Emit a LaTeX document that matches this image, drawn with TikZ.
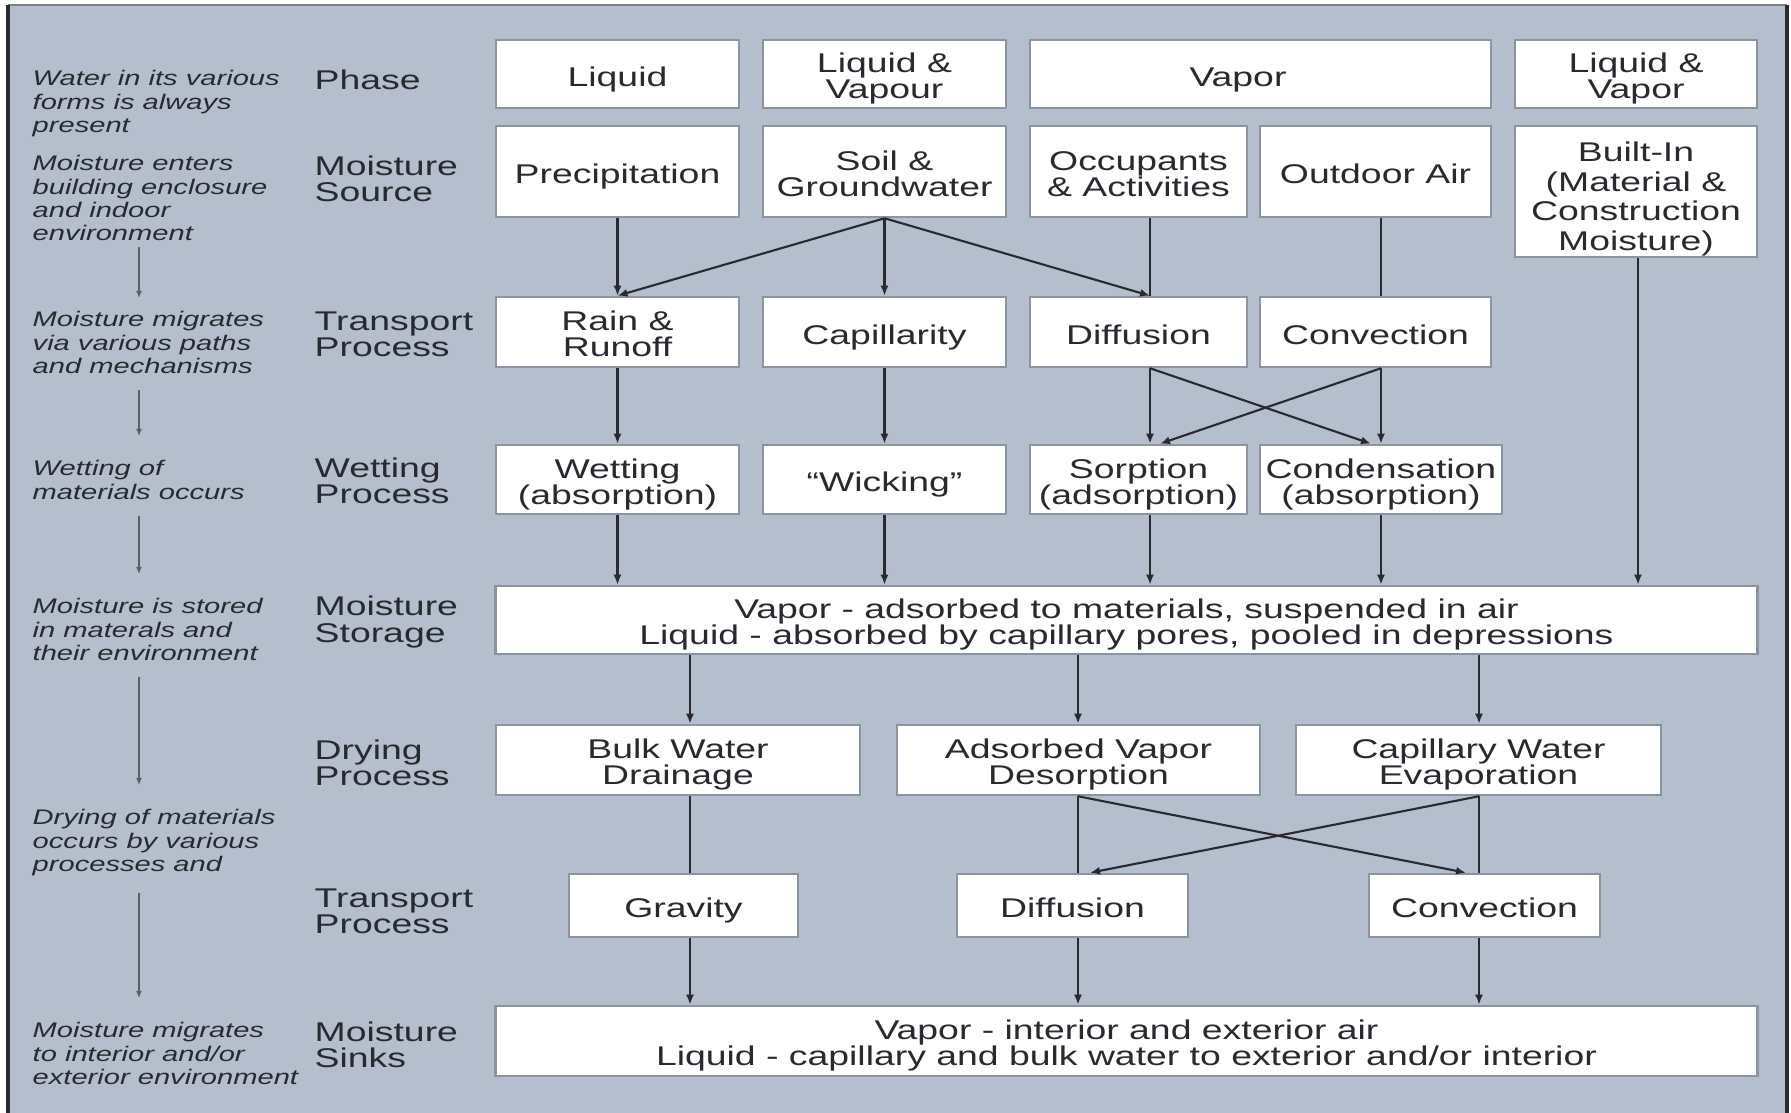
\documentclass[tikz,border=0pt]{standalone}
\usepackage{fontspec}
\setmainfont{Liberation Sans}[FakeStretch=1.38]
\usetikzlibrary{arrows.meta}
\definecolor{bgblue}{RGB}{180,190,205}
\definecolor{boxline}{RGB}{140,148,160}
\definecolor{ink}{RGB}{40,42,48}

\begin{document}
\begin{tikzpicture}[x=0.01cm, y=-0.01cm,
    box/.style = {draw=boxline, fill=white, line width=0.7pt, inner sep=0pt, align=center, text=ink, font=\fontsize{7.7}{7.4}\selectfont, text height=6.9pt, text depth=0pt},
    twoline/.style = {text height=14.2pt},
    cat/.style = {anchor=west, align=left, inner sep=0pt, text=ink, font=\fontsize{7.7}{7.4}\selectfont},
    note/.style = {anchor=north west, align=left, inner sep=0pt, text=ink, font=\itshape\fontsize{6}{6.6}\selectfont},
    arr/.style = {draw=ink, line width=0.6pt, -{Latex[length=1mm,width=0.8mm]}},
    link/.style = {draw=ink, line width=0.6pt},
    down/.style = {draw=ink!75, line width=0.5pt, -{Latex[length=0.7mm,width=0.6mm]}, shorten <=0.16cm, shorten >=0.24cm}]

        \useasboundingbox (0,0) rectangle (1791,1113);
        \fill[white] (0,0) rectangle (1791,1113);
        \fill[bgblue] (8,5) rectangle (1787,1113);
        \draw[gray, line width=0.8pt] (8,5) -- (1787,5);
        \draw[ink, line width=1.2pt] (8,5) -- (8,1113);
        \draw[ink, line width=1.2pt] (1787,5) -- (1787,1113);

        \coordinate (xL) at (139,0);
        \coordinate (xC) at (1150,0);
        \coordinate (xCr) at (1160,0);
        \coordinate (xD) at (1381,0);
        \coordinate (xDl) at (1371,0);
        \coordinate (xE) at (1638,0);
        \coordinate (xG) at (690,0);
        \coordinate (xH) at (1078,0);
        \coordinate (xHr) at (1090,0);
        \coordinate (xI) at (1479,0);
        \coordinate (xIl) at (1466,0);

        \node[note] (note1) at (32,70) {Water in its various\\forms is always\\present};
        \node[note] (note2) at (32,155) {Moisture enters\\building enclosure\\and indoor\\environment};
        \node[note] (note3) at (32,311) {Moisture migrates\\via various paths\\and mechanisms};
        \node[note] (note4) at (32,460) {Wetting of\\materials occurs};
        \node[note] (note5) at (32,598) {Moisture is stored\\in materals and\\their environment};
        \node[note] (note6) at (32,809) {Drying of materials\\occurs by various\\processes and};
        \node[note] (note7) at (32,1022) {Moisture migrates\\to interior and/or\\exterior environment};

        \draw[down, shorten <=0.05cm, shorten >=0.13cm] (note2.south -| xL) -- (note3.north -| xL);
        \draw[down] (note3.south -| xL) -- (note4.north -| xL);
        \draw[down] (note4.south -| xL) -- (note5.north -| xL);
        \draw[down] (note5.south -| xL) -- (note6.north -| xL);
        \draw[down] (note6.south -| xL) -- (note7.north -| xL);

        \node[cat] (catPhase) at (314,80) {Phase};
        \node[cat] (catSource) at (314,179) {Moisture\\Source};
        \node[cat] (catTrans) at (314,334) {Transport\\Process};
        \node[cat] (catWet) at (314,481) {Wetting\\Process};
        \node[cat] (catStore) at (314,622) {Moisture\\Storage};
        \node[cat] (catDry) at (314,763) {Drying\\Process};
        \node[cat] (catTransB) at (314,911) {Transport\\Process};
        \node[cat] (catSinks) at (314,1045) {Moisture\\Sinks};

        \node[box, minimum width=2.43cm, minimum height=0.68cm] (phLiq) at (617.5,74) {Liquid};
        \node[box, twoline, minimum width=2.43cm, minimum height=0.68cm] (phLV) at (884.5,74) {Liquid \&\\Vapour};
        \node[box, minimum width=4.61cm, minimum height=0.68cm] (phVap) at (1260.5,74) {Vapor\hspace*{0.45cm}};
        \node[box, twoline, minimum width=2.42cm, minimum height=0.68cm] (phLVB) at (1636,74) {Liquid \&\\Vapor};

        \node[box, minimum width=2.43cm, minimum height=0.91cm] (srcPrec) at (617.5,171.5) {Precipitation};
        \node[box, twoline, minimum width=2.43cm, minimum height=0.91cm] (srcSoil) at (884.5,171.5) {Soil \&\\Groundwater};
        \node[box, twoline, minimum width=2.17cm, minimum height=0.91cm] (srcOcc) at (1138.5,171.5) {Occupants\\\& Activities};
        \node[box, minimum width=2.31cm, minimum height=0.91cm] (srcAir) at (1375.5,171.5) {Outdoor Air};
        \node[box, text height=33.4pt, minimum width=2.42cm, minimum height=1.31cm, font=\fontsize{7.7}{8.4}\selectfont] (srcBuilt) at (1636,191.5) {Built-In\\(Material \&\\Construction\\Moisture)};

        \node[box, twoline, minimum width=2.43cm, minimum height=0.70cm] (trRain) at (617.5,332) {Rain \&\\Runoff};
        \node[box, minimum width=2.43cm, minimum height=0.70cm] (trCap) at (884.5,332) {Capillarity};
        \node[box, minimum width=2.17cm, minimum height=0.70cm] (trDiff) at (1138.5,332) {Diffusion};
        \node[box, minimum width=2.31cm, minimum height=0.70cm] (trConv) at (1375.5,332) {Convection};

        \node[box, twoline, minimum width=2.43cm, minimum height=0.69cm] (wetAbs) at (617.5,479.5) {Wetting\\(absorption)};
        \node[box, minimum width=2.43cm, minimum height=0.69cm] (wetWick) at (884.5,479.5) {“Wicking”};
        \node[box, twoline, minimum width=2.17cm, minimum height=0.69cm] (wetSorp) at (1138.5,479.5) {Sorption\\(adsorption)};
        \node[box, twoline, minimum width=2.42cm, minimum height=0.69cm] (wetCond) at (1381,479.5) {Condensation\\(absorption)};

        \node[box, twoline, minimum width=12.61cm, minimum height=0.68cm] (store) at (1126.5,620) {Vapor - adsorbed to materials, suspended in air\\Liquid - absorbed by capillary pores, pooled in depressions};

        \node[box, twoline, minimum width=3.64cm, minimum height=0.70cm] (dryBulk) at (678,760) {Bulk Water\\Drainage};
        \node[box, twoline, minimum width=3.63cm, minimum height=0.70cm] (dryDes) at (1078.5,760) {Adsorbed Vapor\\Desorption};
        \node[box, twoline, minimum width=3.65cm, minimum height=0.70cm] (dryEvap) at (1478.5,760) {Capillary Water\\Evaporation};

        \node[box, minimum width=2.29cm, minimum height=0.63cm] (trGrav) at (683.5,905.5) {Gravity};
        \node[box, minimum width=2.31cm, minimum height=0.63cm] (trDiffB) at (1072.5,905.5) {Diffusion};
        \node[box, minimum width=2.31cm, minimum height=0.63cm] (trConvB) at (1484.5,905.5) {Convection};

        \node[box, twoline, minimum width=12.61cm, minimum height=0.70cm] (sinks) at (1126.5,1041) {Vapor - interior and exterior air\\Liquid - capillary and bulk water to exterior and/or interior};

        \draw[arr] (srcPrec) -- (trRain);
        \draw[arr] (srcSoil.south) -- (trRain.north);
        \draw[arr] (srcSoil) -- (trCap);
        \draw[arr] (srcSoil.south) -- (trDiff.north -| xC);
        \draw[link] (srcOcc.south -| xC) -- (trDiff.north -| xC);
        \draw[link] (srcAir.south -| xD) -- (trConv.north -| xD);
        \draw[arr] (srcBuilt.south -| xE) -- (store.north -| xE);

        \draw[arr] (trRain) -- (wetAbs);
        \draw[arr] (trCap) -- (wetWick);
        \draw[arr] (trDiff.south -| xC) -- (wetSorp.north -| xC);
        \draw[arr] (trDiff.south -| xC) -- (wetCond.north -| xDl);
        \draw[arr] (trConv.south -| xD) -- (wetCond.north -| xD);
        \draw[arr] (trConv.south -| xD) -- (wetSorp.north -| xCr);

        \draw[arr] (wetAbs.south) -- (store.north -| wetAbs.south);
        \draw[arr] (wetWick.south) -- (store.north -| wetWick.south);
        \draw[arr] (wetSorp.south -| xC) -- (store.north -| xC);
        \draw[arr] (wetCond.south -| xD) -- (store.north -| xD);

        \draw[arr] (store.south -| xG) -- (dryBulk.north -| xG);
        \draw[arr] (store.south -| xH) -- (dryDes.north -| xH);
        \draw[arr] (store.south -| xI) -- (dryEvap.north -| xI);

        \draw[link] (dryBulk.south -| xG) -- (trGrav.north -| xG);
        \draw[link] (dryDes.south -| xH) -- (trDiffB.north -| xH);
        \draw[arr] (dryDes.south -| xH) -- (trConvB.north -| xIl);
        \draw[link] (dryEvap.south -| xI) -- (trConvB.north -| xI);
        \draw[arr] (dryEvap.south -| xI) -- (trDiffB.north -| xHr);

        \draw[arr] (trGrav.south -| xG) -- (sinks.north -| xG);
        \draw[arr] (trDiffB.south -| xH) -- (sinks.north -| xH);
        \draw[arr] (trConvB.south -| xI) -- (sinks.north -| xI);

\end{tikzpicture}
\end{document}
